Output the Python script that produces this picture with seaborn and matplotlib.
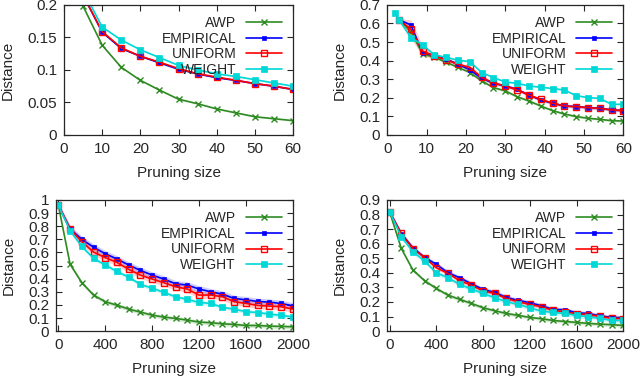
import numpy as np
import pandas as pd
import matplotlib
matplotlib.use("Agg")
import matplotlib.pyplot as plt
import matplotlib.ticker as mticker
import seaborn as sns

sns.set_theme(style="ticks")
plt.rcParams["font.family"] = ["Liberation Sans", "DejaVu Sans"]
plt.rcParams.update({
    "xtick.direction": "in", "ytick.direction": "in",
    "xtick.top": True, "ytick.right": True,
    "font.size": 9, "axes.linewidth": 0.9,
})

SERIES = ["AWP", "EMPIRICAL", "UNIFORM", "WEIGHT"]

# ── panel 1 (top left) ────────────────────────────────────────────────────
x_tl = [5, 10, 15, 20, 25, 30, 35, 40, 45, 50, 55, 60]
awp_tl = [0.198, 0.138, 0.104, 0.084, 0.069, 0.055, 0.048, 0.040, 0.034, 0.028, 0.025, 0.022]
emp_tl = [0.215, 0.158, 0.133, 0.121, 0.111, 0.101, 0.094, 0.088, 0.084, 0.079, 0.075, 0.070]
uni_tl = [0.215, 0.159, 0.134, 0.121, 0.112, 0.102, 0.094, 0.089, 0.084, 0.079, 0.075, 0.070]
wei_tl = [0.222, 0.166, 0.146, 0.131, 0.119, 0.107, 0.100, 0.094, 0.090, 0.085, 0.080, 0.075]

# ── panel 2 (top right) ───────────────────────────────────────────────────
x_tr = [2, 3, 6, 9, 12, 15, 18, 21, 24, 27, 30, 33, 36, 39, 42, 45, 48, 51, 54, 57, 60]
awp_tr = [np.nan, 0.62, 0.556, 0.436, 0.418, 0.391, 0.364, 0.336, 0.291, 0.255, 0.237,
          0.206, 0.183, 0.156, 0.131, 0.113, 0.099, 0.090, 0.084, 0.077, 0.075]
emp_tr = [np.nan, 0.62, 0.592, 0.443, 0.427, 0.408, 0.381, 0.350, 0.305, 0.278, 0.264,
          0.246, 0.215, 0.188, 0.171, 0.156, 0.153, 0.147, 0.144, 0.135, 0.131]
uni_tr = [np.nan, 0.62, 0.569, 0.452, 0.425, 0.405, 0.380, 0.364, 0.310, 0.280, 0.264,
          0.242, 0.215, 0.192, 0.171, 0.156, 0.152, 0.147, 0.143, 0.135, 0.131]
wei_tr = [0.659, 0.62, 0.524, 0.485, 0.431, 0.418, 0.402, 0.395, 0.336, 0.309, 0.285,
          0.278, 0.264, 0.257, 0.250, 0.242, 0.212, 0.201, 0.197, 0.165, 0.165]
uni_tr_band = [0, 0.01, 0.05, 0.03, 0.01, 0.008, 0.008, 0.01, 0.01, 0.008, 0.006,
               0.006, 0.006, 0.006, 0.005, 0.005, 0.005, 0.005, 0.005, 0.005, 0.005]

# ── panel 3 (bottom left) ─────────────────────────────────────────────────
x_bl = list(range(0, 2001, 100))
awp_bl = [0.96, 0.51, 0.37, 0.275, 0.224, 0.198, 0.168, 0.145, 0.122, 0.107, 0.097,
          0.084, 0.069, 0.064, 0.056, 0.051, 0.043, 0.043, 0.038, 0.036, 0.033]
emp_bl = [0.96, 0.779, 0.70, 0.64, 0.59, 0.55, 0.504, 0.463, 0.427, 0.397, 0.361,
          0.351, 0.321, 0.300, 0.282, 0.249, 0.239, 0.226, 0.221, 0.211, 0.193]
uni_bl = [0.96, 0.78, 0.682, 0.603, 0.56, 0.524, 0.471, 0.427, 0.397, 0.369, 0.338,
          0.321, 0.275, 0.275, 0.262, 0.224, 0.211, 0.196, 0.191, 0.186, 0.168]
wei_bl = [0.96, 0.766, 0.646, 0.555, 0.504, 0.455, 0.412, 0.356, 0.328, 0.295, 0.262,
          0.242, 0.219, 0.211, 0.181, 0.168, 0.148, 0.142, 0.130, 0.120, 0.109]

# ── panel 4 (bottom right) ────────────────────────────────────────────────
x_br = list(range(0, 2001, 100))
awp_br = [0.82, 0.568, 0.419, 0.346, 0.293, 0.247, 0.218, 0.190, 0.160, 0.140, 0.121,
          0.108, 0.094, 0.085, 0.073, 0.066, 0.060, 0.053, 0.048, 0.044, 0.039]
emp_br = [0.82, 0.669, 0.572, 0.506, 0.458, 0.401, 0.366, 0.325, 0.286, 0.266, 0.231,
          0.211, 0.195, 0.174, 0.149, 0.147, 0.126, 0.121, 0.105, 0.094, 0.092]
uni_br = [0.82, 0.67, 0.565, 0.505, 0.435, 0.396, 0.346, 0.316, 0.275, 0.259, 0.224,
          0.202, 0.183, 0.167, 0.142, 0.133, 0.119, 0.114, 0.101, 0.089, 0.085]
wei_br = [0.82, 0.648, 0.545, 0.481, 0.401, 0.366, 0.321, 0.289, 0.259, 0.229, 0.202,
          0.183, 0.160, 0.137, 0.128, 0.121, 0.108, 0.098, 0.087, 0.073, 0.073]

COLORS = {"AWP": "#2e8b22", "EMPIRICAL": "#0000ff", "UNIFORM": "#ff0000", "WEIGHT": "#00d8d8"}
MARKERS = {
    "AWP": dict(marker="x", ms=4, mew=1.0),
    "EMPIRICAL": dict(marker="s", ms=3, mew=0.5),
    "UNIFORM": dict(marker="s", ms=4, mew=1.0, mfc="none"),
    "WEIGHT": dict(marker="s", ms=4.5, mew=0.5),
}


def draw_panel(ax, x, ys, bands, xlim, ylim, xticks, yticks):
    for name, y, band in zip(SERIES, ys, bands):
        y = np.asarray(y, dtype=float)
        b = np.asarray(band, dtype=float) * np.ones_like(y)
        ax.fill_between(x, y - b, y + b, color=COLORS[name], alpha=0.2, lw=0)
        df = pd.DataFrame({"x": x, "y": y}).dropna()
        sns.lineplot(data=df, x="x", y="y", ax=ax, color=COLORS[name], lw=1.2,
                     label=name, mec=COLORS[name], **MARKERS[name])
    ax.set_xlim(*xlim)
    ax.set_ylim(*ylim)
    ax.set_xticks(xticks)
    ax.set_yticks(yticks)
    ax.yaxis.set_major_formatter(mticker.FormatStrFormatter("%g"))
    ax.tick_params(length=4, width=0.8, labelsize=11, pad=5)
    ax.set_xlabel("Pruning size", fontsize=11, labelpad=7)
    ax.set_ylabel("Distance", fontsize=11, labelpad=9)
    ax.legend(loc="upper right", frameon=False, markerfirst=False, fontsize=10,
              handlelength=2.6, handletextpad=0.7, labelspacing=0.12,
              borderaxespad=0.4)


fig = plt.figure(figsize=(6.4, 3.78), dpi=100)
ax1 = fig.add_axes([0.100, 0.643, 0.358, 0.344])
ax2 = fig.add_axes([0.605, 0.643, 0.369, 0.344])
ax3 = fig.add_axes([0.0875, 0.124, 0.370, 0.347])
ax4 = fig.add_axes([0.605, 0.124, 0.369, 0.347])

draw_panel(ax1, x_tl, [awp_tl, emp_tl, uni_tl, wei_tl], [0.001, 0.001, 0.001, 0.001],
           (0, 60), (0, 0.2), range(0, 61, 10), np.arange(0, 0.201, 0.05))
draw_panel(ax2, x_tr, [awp_tr, emp_tr, uni_tr, wei_tr], [0.006, 0.008, uni_tr_band, 0.004],
           (0, 60), (0, 0.7), range(0, 61, 10), np.arange(0, 0.701, 0.1))
draw_panel(ax3, x_bl, [awp_bl, emp_bl, uni_bl, wei_bl], [0.015, 0.025, 0.025, 0.015],
           (-20, 2000), (0, 1.0), range(0, 2001, 400), np.arange(0, 1.001, 0.1))
draw_panel(ax4, x_br, [awp_br, emp_br, uni_br, wei_br], [0.012, 0.015, 0.012, 0.015],
           (-20, 2000), (0, 0.9), range(0, 2001, 400), np.arange(0, 0.901, 0.1))

fig.savefig("out.png", dpi=100)
